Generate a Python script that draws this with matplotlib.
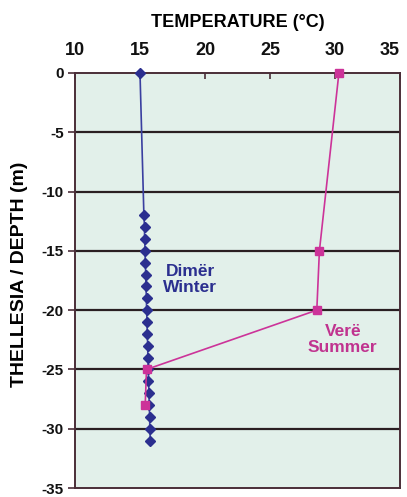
import matplotlib
matplotlib.use('Agg')
import matplotlib.pyplot as plt

plt.rcParams['font.family'] = ['Liberation Sans', 'DejaVu Sans']
plt.rcParams['axes.unicode_minus'] = False

# Dimër / Winter profile
winter_depth = [0, -12, -13, -14, -15, -16, -17, -18, -19, -20, -21, -22,
                -23, -24, -25, -26, -27, -28, -29, -30, -31]
winter_temp = [15.0, 15.3, 15.35, 15.35, 15.4, 15.4, 15.45, 15.45, 15.5, 15.5, 15.55, 15.55,
               15.6, 15.6, 15.65, 15.65, 15.7, 15.7, 15.75, 15.75, 15.8]

# Verë / Summer profile
summer_depth = [0, -15, -20, -25, -28]
summer_temp = [30.3, 28.8, 28.6, 15.5, 15.4]

fig = plt.figure(figsize=(4.07, 4.97), dpi=100)
ax = fig.add_axes([75 / 407, 1 - 488 / 497, 325 / 407, 415 / 497])
ax.set_facecolor('#e2f0ea')

frame = '#4a2e38'
for y in range(-30, 0, 5):
    ax.axhline(y, color='#2a1f22', lw=1.6, zorder=1)

ax.plot(winter_temp, winter_depth, color='#3a3fa0', lw=1.2, marker='D', ms=5,
        mfc='#2b2f8f', mec='#2b2f8f', zorder=3, clip_on=False)
ax.plot(summer_temp, summer_depth, color='#cc3399', lw=1.2, marker='s', ms=5.5,
        mfc='#cc3399', mec='#cc3399', zorder=4, clip_on=False)

ax.set_xlim(10, 35)
ax.set_ylim(-35, 0)
ax.set_xticks([10, 15, 20, 25, 30, 35])
ax.set_yticks(range(-35, 1, 5))
ax.xaxis.tick_top()
ax.xaxis.set_label_position('top')
ax.tick_params(axis='x', direction='in', length=4, width=1.2, color=frame, pad=10, labelsize=13)
ax.tick_params(axis='y', direction='out', length=5, width=1.2, color=frame, pad=3, labelsize=11)
for lab in ax.get_xticklabels() + ax.get_yticklabels():
    lab.set_fontweight('bold')
    lab.set_color('#111111')
ax.get_xticklabels()[-1].set_ha('right')
for s in ax.spines.values():
    s.set_color(frame)
    s.set_linewidth(1.4)

ax.set_xlabel('TEMPERATURE (°C)', fontsize=13, fontweight='bold', labelpad=11)
fig.text(20 / 407, 1 - 274 / 497, 'THELLESIA / DEPTH (m)', rotation=90, fontsize=14,
         fontweight='bold', ha='center', va='center')

ax.text(18.85, -17.4, 'Dimër\nWinter', color='#2b2f8f', fontsize=12.5, fontweight='bold',
        ha='center', va='center', linespacing=1.05)
ax.text(30.6, -22.5, 'Verë\nSummer', color='#c0338f', fontsize=12.5, fontweight='bold',
        ha='center', va='center', linespacing=1.05)

plt.savefig('out.png', dpi=100)
